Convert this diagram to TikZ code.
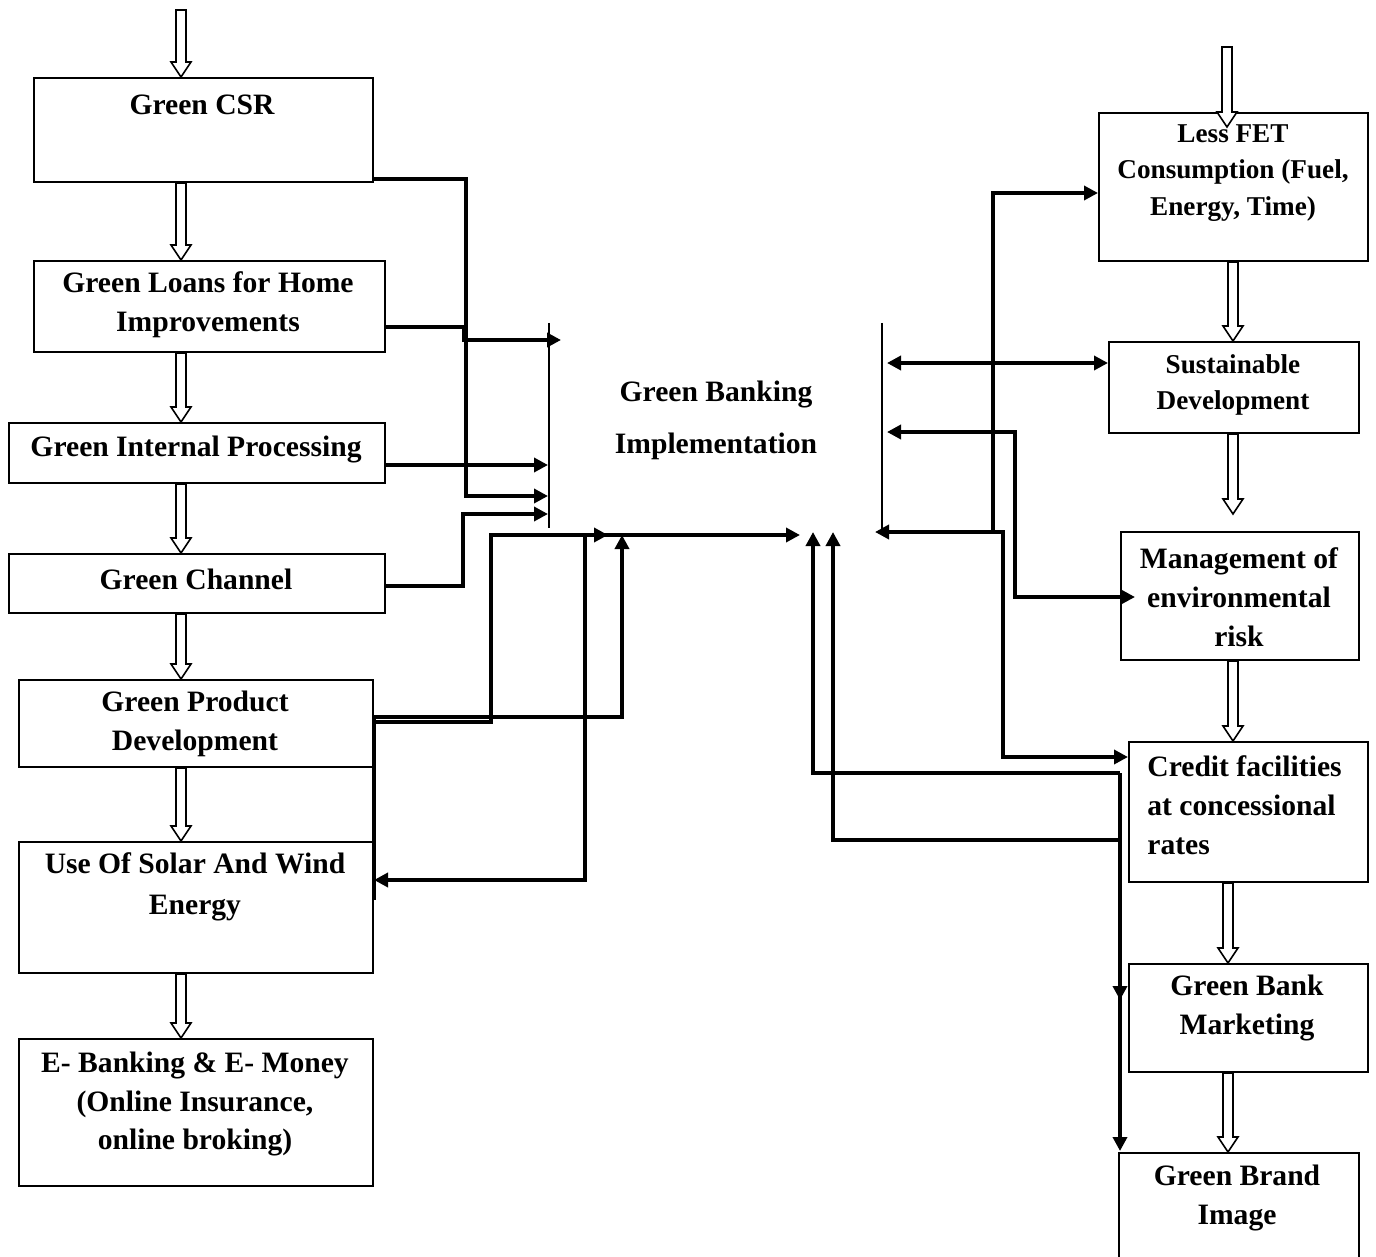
\documentclass[tikz,border=0pt]{standalone}
\usepackage{fontspec}
\setmainfont{Liberation Serif}
\usetikzlibrary{arrows.meta,calc}
\begin{document}
\begin{tikzpicture}[x=0.5pt,y=-0.5pt,
 box/.style={draw, line width=1pt, anchor=north west, inner sep=0pt},
 txt/.style={font=\fontsize{14.8}{19.4}\selectfont\bfseries, align=center, inner sep=0pt},
 txts/.style={font=\fontsize{13.6}{18.3}\selectfont\bfseries, align=center, inner sep=0pt},
 conn/.style={line width=1.8pt},
 arr/.style={-{Triangle[length=7pt,width=7pt]}},
 arrs/.style={{Triangle[length=7pt,width=7pt]}-{Triangle[length=7pt,width=7pt]}},
 bar/.style={line width=0.7pt},
 hollow/.style={draw, line width=0.8pt, fill=white, to path={let \p1=(\tikztostart), \p2=(\tikztotarget) in (\x1-2.5pt,\y1) -- (\x1-2.5pt,\y2+7.5pt) -- (\x1-5pt,\y2+7.5pt) -- (\x1,\y2) -- (\x1+5pt,\y2+7.5pt) -- (\x1+2.5pt,\y2+7.5pt) -- (\x1+2.5pt,\y1) -- cycle}}
]
\useasboundingbox (0,0) rectangle (1376,1257);

% left column boxes
\node[box, minimum width=169.5pt, minimum height=52pt] (csr) at (33,77) {};
\node[box, minimum width=175.5pt, minimum height=45.5pt] (loans) at (33,260) {};
\node[box, minimum width=188pt, minimum height=30pt] (gip) at (8,422) {};
\node[box, minimum width=188pt, minimum height=29.5pt] (gch) at (8,553) {};
\node[box, minimum width=177pt, minimum height=43.5pt] (gpd) at (18,679) {};
\node[box, minimum width=177pt, minimum height=65.5pt] (solar) at (18,841) {};
\node[box, minimum width=177pt, minimum height=73.5pt] (ebank) at (18,1038) {};

\node[txt] (csrt) at (202,105) {Green CSR};
\node[txt] (loanst) at (208,305) {Green Loans for Home\\Improvements};
\node[txt] (gipt) at (196,449) {Green Internal Processing};
\node[txt] (gcht) at (196,579) {Green Channel};
\node[txt] (gpdt) at (195,724) {Green Product\\Development};
\node[txt, font=\fontsize{14.8}{20.5}\selectfont\bfseries] (solart) at (195,887) {Use Of Solar And Wind\\Energy};
\node[txt] (ebankt) at (195,1104) {E- Banking \& E- Money\\(Online Insurance,\\online broking)};

% centre
\node[txt, font=\fontsize{14.8}{26}\selectfont\bfseries] (gbi) at (716,420) {Green Banking\\Implementation};

% right column boxes
\node[box, minimum width=134.5pt, minimum height=74pt] (r1) at (1098,112) {};
\node[box, minimum width=125pt, minimum height=45.5pt] (r2) at (1108,341) {};
\node[box, minimum width=119pt, minimum height=64pt] (r3) at (1120,531) {};
\node[box, minimum width=119.5pt, minimum height=70pt] (r4) at (1128,741) {};
\node[box, minimum width=119.5pt, minimum height=54pt] (r5) at (1128,963) {};
\node[box, minimum width=120pt, minimum height=56pt] (r6) at (1118,1152) {};

\node[txts] (r1t) at (1233,173) {Less FET\\Consumption (Fuel,\\Energy, Time)};
\node[txts] (r2t) at (1233,385) {Sustainable\\Development};
\node[txt] (r3t) at (1239,597) {Management of\\environmental\\risk};
\node[txt, align=left, anchor=west] (r4t) at (1147,805) {Credit facilities\\at concessional\\rates};
\node[txt] (r5t) at (1247,1008) {Green Bank\\Marketing};
\node[txt] (r6t) at (1237,1198) {Green Brand\\Image};

% helper coordinates
\coordinate (lx) at (181,0);
\coordinate (rxa) at (1233,0);
\coordinate (rxb) at (1228,0);
\coordinate (topL) at (181,10);
\coordinate (topR) at (1227,47);
\coordinate (r1in) at (1227,127);
\coordinate (r3tip) at (1233,514);
\coordinate (r6in) at (1120,1151);

% hollow flow arrows
\path[hollow] (topL) to (csr.north -| lx);
\path[hollow] (csr.south -| lx) to (loans.north -| lx);
\path[hollow] (loans.south -| lx) to (gip.north -| lx);
\path[hollow] (gip.south -| lx) to (gch.north -| lx);
\path[hollow] (gch.south -| lx) to (gpd.north -| lx);
\path[hollow] (gpd.south -| lx) to (solar.north -| lx);
\path[hollow] (solar.south -| lx) to (ebank.north -| lx);

\path[hollow] (topR) to (r1in);
\path[hollow] (r1.south -| rxa) to (r2.north -| rxa);
\path[hollow] (r2.south -| rxa) to (r3tip);
\path[hollow] (r3.south -| rxa) to (r4.north -| rxa);
\path[hollow] (r4.south -| rxb) to (r5.north -| rxb);
\path[hollow] (r5.south -| rxb) to (r6.north -| rxb);

% thin bars
\coordinate (lbarT) at (549,323);
\coordinate (lbarB) at (549,528);
\coordinate (rbarT) at (882,323);
\coordinate (rbarB) at (882,530);
\draw[bar] (lbarT) -- (lbarB);
\draw[bar] (rbarT) -- (rbarB);

% left connectors
\draw[conn,arr] (csr.east |- 0,179) -| (466,496) -- (548,496);
\draw[conn,arr] (loans.east |- 0,327) -| (464,340) -- (561,340);
\draw[conn,arr] (gip.east |- 0,465) -- (548,465);
\draw[conn,arr] (gch.east |- 0,586) -| (463,514) -- (548,514);
\draw[conn,arr] (gpd.east |- 0,717) -| (622,535);
\draw[conn,arr] (gpd.east |- 0,722) -| (491,535) -- (608,535);
\draw[conn,arr] (600,535) -- (800,535);
\draw[conn,arr] (585,535) -- (585,880) -- (solar.east |- 0,880);
\draw[conn] (gpd.east |- 0,717) -- (gpd.east |- 0,900);

% right connectors
\draw[conn,arr] (993,532) -- (993,193) -- (r1.west |- 0,193);
\draw[conn,arrs] (875,532) -- (1003,532) -- (1003,757) -- (r4.west |- 0,757);
\draw[conn,arrs] (887,363) -- (r2.west |- 0,363);
\draw[conn,arrs] (887,432) -| (1015,597) -- (1135,597);
\draw[conn,arr] (1120,773) -| (813,532);
\draw[conn,arr] (1120,840) -| (833,532);
\draw[conn,arr] (1120,773) -- (1120,1000);
\draw[conn,arr] (1120,990) -- (r6in);
\end{tikzpicture}
\end{document}
